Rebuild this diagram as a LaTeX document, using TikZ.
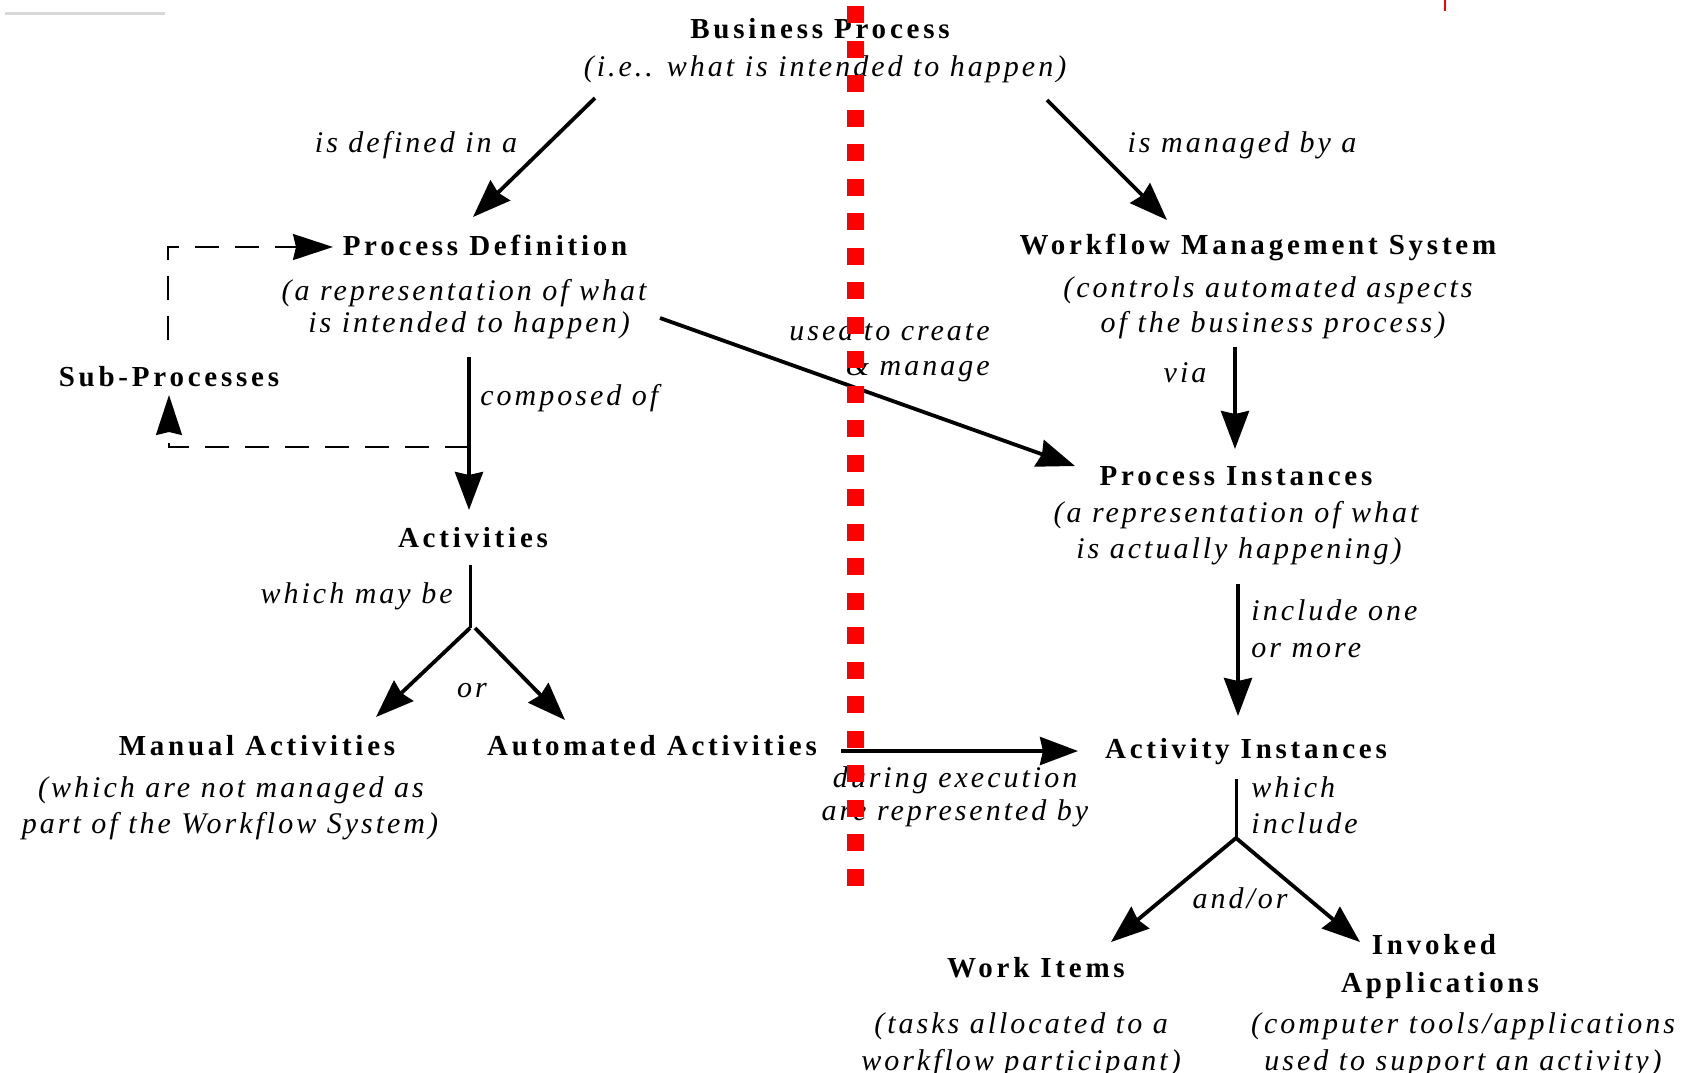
\documentclass[tikz,border=0pt]{standalone}
\usepackage{fontspec}
\usetikzlibrary{arrows.meta}
\setmainfont{Liberation Serif}
\newfontfamily\ttlfam{Liberation Serif}[LetterSpace=13]
\newfontfamily\dscfam{Liberation Serif}[LetterSpace=10]
\newcommand\ttlfont{\ttlfam\bfseries\fontsize{14.5}{17}\selectfont}
\newcommand\dscfont{\dscfam\itshape\fontsize{15}{17}\selectfont}
\definecolor{cutred}{RGB}{255,0,0}
\tikzset{
  ttl/.style={font=\ttlfont, anchor=base, inner sep=0pt},
  dsc/.style={font=\dscfont, anchor=base, inner sep=0pt},
  lbl/.style={font=\dscfont, anchor=base, inner sep=0pt},
  lblw/.style={lbl, anchor=base west},
  lble/.style={lbl, anchor=base east},
  conn/.style={line width=1.9pt, -{Stealth[length=19pt,width=14pt,inset=1.5pt]}},
  stem/.style={line width=1.5pt},
  dsh/.style={line width=1pt, dash pattern=on 12pt off 8pt},
  dsharrow/.style={dsh, -{Stealth[length=20pt,width=13pt,inset=1.5pt]}},
}
\begin{document}
\begin{tikzpicture}[x=0.5pt, y=-0.5pt]
\clip (0,0) rectangle (1691,1072);
\fill[white] (0,0) rectangle (1691,1072);

% small marks along the top edge
\draw[black!15, line width=1.5pt] (5,13) -- (165,13);
\draw[cutred, line width=1pt] (1445,0) -- (1445,11);

% ---- left column: definition side ----
\node[ttl] (bp)  at (820,38) {Business Process};
\node[dsc] (bpd) at (825,76) {(i.e.. what is intended to happen)};

\node[lbl] (ldef) at (416,152) {is defined in a};
\node[lbl] (lman) at (1242,152) {is managed by a};

\node[ttl] (pd)  at (485,255) {Process Definition};
\node[dsc] (pd1) at (464,300) {(a representation of what};
\node[dsc] (pd2) at (469,332) {is intended to happen)};

\node[ttl] (sub) at (169,386) {Sub-Processes};
\node[lblw] (lcomp) at (480,405) {composed of};

\node[ttl] (act) at (473,547) {Activities};
\node[lble] (lmay) at (453,603) {which may be};
\node[lbl] (lor) at (472,697) {or};

\node[ttl] (man)  at (257,755) {Manual Activities};
\node[dsc] (man1) at (231,797) {(which are not managed as};
\node[dsc] (man2) at (230,833) {part of the Workflow System)};
\node[ttl] (aut)  at (652,755) {Automated Activities};

% ---- right column: run-time side ----
\node[ttl] (wms)  at (1258,254) {Workflow Management System};
\node[dsc] (wms1) at (1268,297) {(controls automated aspects};
\node[dsc] (wms2) at (1273,332) {of the business process)};

\node[lble] (luse1) at (990,340) {used to create};
\node[lble] (luse2) at (990,375) {\& manage};
\node[lbl]  (lvia)  at (1185,382) {via};

\node[ttl] (pi)  at (1236,485) {Process Instances};
\node[dsc] (pi1) at (1236,522) {(a representation of what};
\node[dsc] (pi2) at (1239,558) {is actually happening)};
\node[lblw] (linc1) at (1251,620) {include one};
\node[lblw] (linc2) at (1251,657) {or more};

\node[ttl] (ai) at (1246,758) {Activity Instances};
\node[lbl] (ldur1) at (955,787) {during execution};
\node[lbl] (ldur2) at (955,820) {are represented by};
\node[lblw] (lwh1) at (1251,797) {which};
\node[lblw] (lwh2) at (1251,833) {include};
\node[lbl] (landor) at (1240,908) {and/or};

\node[ttl] (wi)  at (1036,977) {Work Items};
\node[dsc] (wi1) at (1021,1033) {(tasks allocated to a};
\node[dsc] (wi2) at (1021,1070) {workflow participant)};

\node[ttl] (ia)  at (1434,954) {Invoked};
\node[ttl] (iab) at (1440,992) {Applications};
\node[dsc] (ia1) at (1463,1033) {(computer tools/applications};
\node[dsc] (ia2) at (1463,1070) {used to support an activity)};

% ---- connector end points ----
\coordinate (bpL)  at (595,98);
\coordinate (pdT)  at (473,217);
\coordinate (bpR)  at (1047,100);
\coordinate (wmsT) at (1167,220);
\coordinate (pdR)  at (660,318);
\coordinate (piL)  at (1075,466);
\coordinate (pdB)  at (469,357);
\coordinate (actT) at (469,510);
\coordinate (cmpJ) at (469,447);
\coordinate (subC) at (169,447);
\coordinate (subB) at (169,395);
\coordinate (subT) at (168,352);
\coordinate (subK) at (168,247);
\coordinate (pdL)  at (333,247);
\coordinate (wmsB) at (1235,347);
\coordinate (piT)  at (1235,449);
\coordinate (piB)  at (1238,584);
\coordinate (aiT)  at (1238,716);
\coordinate (actB) at (470,565);
\coordinate (actJ) at (470,628);
\coordinate (actJr) at (475,628);
\coordinate (manT) at (376,717);
\coordinate (autT) at (565,720);
\coordinate (autR) at (841,751);
\coordinate (aiL)  at (1078,751);
\coordinate (aiB)  at (1236,779);
\coordinate (aiJ)  at (1236,838);
\coordinate (wiT)  at (1111,942);
\coordinate (iaT)  at (1360,942);

% ---- connectors ----
\draw[conn] (bpL) -- (pdT);
\draw[conn] (bpR) -- (wmsT);
\draw[conn] (pdR) -- (piL);
\draw[conn] (pdB) -- (actT);
\draw[dsharrow] (cmpJ) -- (subC) -- (subB);
\draw[dsharrow, dash phase=14pt] (subT) -- (subK) -- (pdL);
\draw[conn] (wmsB) -- (piT);
\draw[conn] (piB) -- (aiT);
\draw[stem] (actB) -- (actJ);
\draw[conn] (actJ) -- (manT);
\draw[conn] (actJr) -- (autT);
\draw[conn] (autR) -- (aiL);
\draw[stem] (aiB) -- (aiJ);
\draw[conn] (aiJ) -- (wiT);
\draw[conn] (aiJ) -- (iaT);

% ---- boundary between definition and run time ----
\coordinate (cutT) at (855.5,6);
\coordinate (cutB) at (855.5,886);
\draw[cutred, line width=8.5pt, dash pattern=on 8.5pt off 8.75pt] (cutT) -- (cutB);
\end{tikzpicture}
\end{document}
